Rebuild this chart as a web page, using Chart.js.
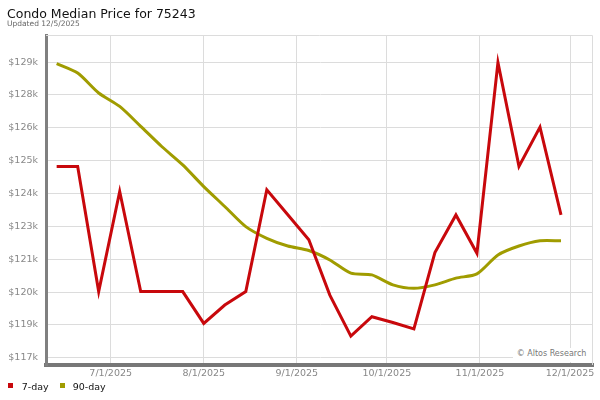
<!DOCTYPE html>
<html>
<head>
<meta charset="utf-8">
<script src="https://cdn.jsdelivr.net/npm/chart.js@4.4.1/dist/chart.umd.min.js"></script>
<style>
  body { margin: 0; background: #fff; font-family: "DejaVu Sans", sans-serif; }
  #wrap { position: relative; width: 600px; height: 400px; overflow: hidden; }
  #wrap canvas { position: absolute; left: 0; top: 0; }
  .txt { position: absolute; line-height: 1; white-space: nowrap; }
  #title { left: 7px; top: 8.4px; font-size: 12.5px; color: #111; }
  #updated { left: 7px; top: 20.3px; font-size: 7.5px; color: #666; }
  #legend { left: 0; top: 382px; font-size: 9.5px; color: #111; }
  .sw { position: absolute; width: 5px; height: 5px; top: 1px; }
  #credit { left: 513px; top: 348px; width: 79px; height: 14px; background: #fff; font-size: 8px; color: #777; }
  #credit span { position: absolute; left: 3.7px; top: 2px; }
</style>
</head>
<body>
<div id="wrap">
  <canvas id="priceChart" width="600" height="400"></canvas>
  <div class="txt" id="title">Condo Median Price for 75243</div>
  <div class="txt" id="updated">Updated 12/5/2025</div>
  <div class="txt" id="credit"><span>© Altos Research</span></div>
  <div class="txt" id="legend"></div>
</div>
<script>
// weekly data points (Fridays)
const dates = ['2025-06-13', '2025-06-20', '2025-06-27', '2025-07-04', '2025-07-11', '2025-07-18',
  '2025-07-25', '2025-08-01', '2025-08-08', '2025-08-15', '2025-08-22', '2025-08-29',
  '2025-09-05', '2025-09-12', '2025-09-19', '2025-09-26', '2025-10-03', '2025-10-10',
  '2025-10-17', '2025-10-24', '2025-10-31', '2025-11-07', '2025-11-14', '2025-11-21', '2025-11-28'];

const sevenDay = [124930, 124930, 119900, 123920, 119900, 119900, 119900, 118620, 119360, 119900,
  123990, 122990, 121980, 119760, 118110, 118890, 118660, 118400, 121470, 122980,
  121440, 129110, 124930, 126510, 122980];

const ninetyDay = [129060, 128680, 127880, 127340, 126540, 125730, 124990, 124120, 123320, 122510,
  122040, 121730, 121550, 121170, 120640, 120570, 120170, 120030, 120170, 120440,
  120610, 121370, 121730, 121940, 121940];

const seriesNames = ['7-day', '90-day'];
const seriesColors = ['#c8080c', '#a09c00'];

const xTickDates = ['2025-07-01', '2025-08-01', '2025-09-01', '2025-10-01', '2025-11-01', '2025-12-01'];
const xTickLabels = ['7/1/2025', '8/1/2025', '9/1/2025', '10/1/2025', '11/1/2025', '12/1/2025'];

const yTickValues = [117240, 118560, 119880, 121200, 122520, 123840, 125160, 126480, 127800, 129120];
const yTickLabels = ['$117k', '$119k', '$120k', '$121k', '$123k', '$124k', '$125k', '$126k', '$128k', '$129k'];

function toDay(s) {
  const p = s.split('-').map(Number);
  return Date.UTC(p[0], p[1] - 1, p[2]) / 86400000;
}

// light frame on top and right of the plot
const frameLines = {
  id: 'frameLines',
  beforeDatasetsDraw(chart) {
    const { ctx, chartArea: a } = chart;
    ctx.save();
    ctx.strokeStyle = '#dcdcdc';
    ctx.lineWidth = 1;
    ctx.beginPath();
    ctx.moveTo(a.left, a.top + 0.5);
    ctx.lineTo(a.right - 0.5, a.top + 0.5);
    ctx.lineTo(a.right - 0.5, a.bottom);
    ctx.stroke();
    ctx.restore();
  }
};

const tickFont = { family: 'DejaVu Sans', size: 9.5 };

const chart = new Chart(document.getElementById('priceChart').getContext('2d'), {
  type: 'line',
  data: {
    datasets: [
      {
        label: seriesNames[0],
        data: dates.map((d, i) => ({ x: toDay(d), y: sevenDay[i] })),
        borderColor: seriesColors[0],
        borderWidth: 3,
        pointRadius: 0,
        tension: 0
      },
      {
        label: seriesNames[1],
        data: dates.map((d, i) => ({ x: toDay(d), y: ninetyDay[i] })),
        borderColor: seriesColors[1],
        borderWidth: 3,
        pointRadius: 0,
        tension: 0.25
      }
    ]
  },
  options: {
    responsive: false,
    devicePixelRatio: 1,
    animation: false,
    layout: { padding: { top: 35, left: 0, right: 7, bottom: 21 } },
    plugins: {
      legend: { display: false },
      tooltip: { enabled: false }
    },
    scales: {
      x: {
        type: 'linear',
        min: toDay('2025-07-01') - 21.55,
        max: toDay('2025-12-01') + 7.66,
        afterFit: s => { s.height = 14; },
        afterBuildTicks: s => { s.ticks = xTickDates.map(d => ({ value: toDay(d) })); },
        grid: { color: '#dcdcdc', lineWidth: 1, drawTicks: false },
        border: { display: true, color: '#777', width: 4 },
        ticks: {
          autoSkip: false,
          maxRotation: 0,
          padding: 3,
          color: '#888',
          font: tickFont,
          callback: (v, i) => xTickLabels[i]
        }
      },
      y: {
        min: 116950,
        max: 130210,
        afterFit: s => { s.width = 46; },
        afterBuildTicks: s => { s.ticks = yTickValues.map(v => ({ value: v })); },
        grid: { color: '#dcdcdc', lineWidth: 1, drawTicks: false },
        border: { display: true, color: '#808080', width: 3 },
        ticks: {
          padding: 8,
          color: '#888',
          font: tickFont,
          callback: (v, i) => yTickLabels[i]
        }
      }
    }
  },
  plugins: [frameLines]
});

// legend below the chart
const legend = document.getElementById('legend');
const legendPos = [[8, 21.7], [59.5, 72.7]];
seriesNames.forEach((name, i) => {
  const sw = document.createElement('div');
  sw.className = 'sw';
  sw.style.left = legendPos[i][0] + 'px';
  sw.style.background = seriesColors[i];
  legend.appendChild(sw);
  const t = document.createElement('div');
  t.className = 'txt';
  t.style.left = legendPos[i][1] + 'px';
  t.style.top = '0px';
  t.textContent = name;
  legend.appendChild(t);
});
</script>
</body>
</html>
